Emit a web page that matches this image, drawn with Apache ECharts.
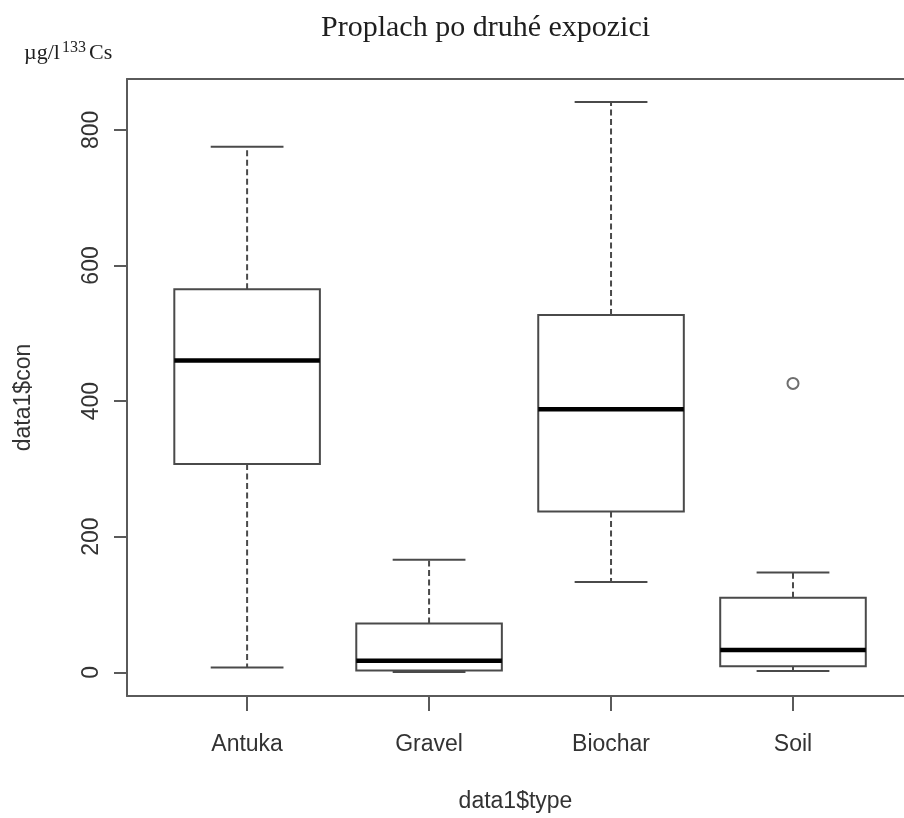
<!DOCTYPE html>
<html>
<head>
<meta charset="utf-8">
<script src="https://cdn.jsdelivr.net/npm/echarts@6/dist/echarts.min.js"></script>
<style>
  html, body { margin: 0; padding: 0; background: #fff; }
  #chart { width: 904px; height: 818px; }
</style>
</head>
<body>
<div id="chart"></div>
<script>
// Box-plot statistics per soil type (µg/l 133Cs)
const categories   = ['Antuka', 'Gravel', 'Biochar', 'Soil'];
const lowWhisker   = [7, 0.5, 133, 2];
const lowerQuart   = [307, 2.5, 237, 9];
const medians      = [460, 17, 388, 33];
const upperQuart   = [565, 72, 527, 110];
const highWhisker  = [775, 166, 841, 147];
// Outlying points: [category position (1-based), value]
const outlierPos   = [4];
const outlierVals  = [426];
const yTicks       = [0, 200, 400, 600, 800];

const boxRows = categories.map((c, i) => [
  i + 1, lowWhisker[i], lowerQuart[i], medians[i], upperQuart[i], highWhisker[i]
]);
const outlierRows = outlierPos.map((p, i) => [p, outlierVals[i]]);
const xPositions = categories.map((c, i) => i + 1);

const lineColor = '#4a4a4a';
const frameColor = '#5a5a5a';

function renderBox(params, api) {
  const x = api.value(0);
  const pLo  = api.coord([x, api.value(1)]);
  const pQ1  = api.coord([x, api.value(2)]);
  const pMed = api.coord([x, api.value(3)]);
  const pQ3  = api.coord([x, api.value(4)]);
  const pHi  = api.coord([x, api.value(5)]);
  const half = api.size([0.4, 0])[0];
  const cap = half / 2;
  const cx = pMed[0];
  const thin = { stroke: lineColor, lineWidth: 2, fill: null };
  const dashed = { stroke: lineColor, lineWidth: 2, lineDash: [6, 3.5] };
  return {
    type: 'group',
    children: [
      { type: 'line', shape: { x1: cx, y1: pQ3[1], x2: cx, y2: pHi[1] }, style: dashed },
      { type: 'line', shape: { x1: cx, y1: pQ1[1], x2: cx, y2: pLo[1] }, style: dashed },
      { type: 'line', shape: { x1: cx - cap, y1: pHi[1], x2: cx + cap, y2: pHi[1] }, style: thin },
      { type: 'line', shape: { x1: cx - cap, y1: pLo[1], x2: cx + cap, y2: pLo[1] }, style: thin },
      { type: 'rect', shape: { x: cx - half, y: pQ3[1], width: 2 * half, height: pQ1[1] - pQ3[1] },
        style: { stroke: lineColor, lineWidth: 2, fill: '#fff' } },
      { type: 'line', shape: { x1: cx - half, y1: pMed[1], x2: cx + half, y2: pMed[1] },
        style: { stroke: '#000', lineWidth: 4.5 } }
    ]
  };
}

const chart = echarts.init(document.getElementById('chart'), null, { renderer: 'canvas' });

const unitFont = '"Liberation Serif"';

chart.setOption({
  animation: false,
  backgroundColor: '#ffffff',
  title: {
    text: 'Proplach po druhé expozici',
    left: 316,
    top: 8,
    textStyle: { fontFamily: 'Liberation Serif', fontSize: 30, fontWeight: 'normal', color: '#1e1e1e' }
  },
  graphic: [
    { type: 'text', left: 24, top: 42,
      style: { text: 'µg/l', font: '22px ' + unitFont, fill: '#1e1e1e' } },
    { type: 'text', left: 62, top: 40,
      style: { text: '133', font: '16px ' + unitFont, fill: '#1e1e1e' } },
    { type: 'text', left: 89, top: 42,
      style: { text: 'Cs', font: '22px ' + unitFont, fill: '#1e1e1e' } }
  ],
  grid: {
    left: 127, right: 0, top: 79, bottom: 122,
    show: false
  },
  xAxis: [
    {
      type: 'value',
      min: 0.34,
      max: 4.61,
      axisLine: { show: true, onZero: false, lineStyle: { color: frameColor, width: 2 } },
      splitLine: { show: false },
      axisTick: { show: true, customValues: xPositions, length: 15, inside: false,
        lineStyle: { color: frameColor, width: 2 } },
      axisLabel: {
        customValues: xPositions,
        formatter: v => categories[Math.round(v) - 1],
        margin: 37,
        fontFamily: 'Liberation Sans', fontSize: 23, color: '#333'
      },
      name: 'data1$type',
      nameLocation: 'middle',
      nameGap: 94,
      nameTextStyle: { fontFamily: 'Liberation Sans', fontSize: 23, color: '#333' }
    },
    {
      // top edge of the plot frame
      type: 'value',
      position: 'top',
      min: 0.34,
      max: 4.61,
      axisLine: { show: true, onZero: false, lineStyle: { color: frameColor, width: 2 } },
      axisTick: { show: false },
      axisLabel: { show: false },
      splitLine: { show: false }
    }
  ],
  yAxis: {
    type: 'value',
    min: -35,
    max: 875,
    axisLine: { show: true, onZero: false, lineStyle: { color: frameColor, width: 2 } },
    splitLine: { show: false },
    axisTick: { show: true, customValues: yTicks, length: 13,
      lineStyle: { color: frameColor, width: 2 } },
    axisLabel: {
      customValues: yTicks,
      rotate: 90,
      margin: 24,
      fontFamily: 'Liberation Sans', fontSize: 23, color: '#333'
    },
    name: 'data1$con',
    nameLocation: 'middle',
    nameGap: 92,
    nameTextStyle: { fontFamily: 'Liberation Sans', fontSize: 23, color: '#333', padding: [0, 0, 0, -20] }
  },
  series: [
    {
      type: 'custom',
      renderItem: renderBox,
      data: boxRows,
      encode: { x: 0, y: [1, 2, 3, 4, 5] },
      z: 2
    },
    {
      type: 'scatter',
      data: outlierRows,
      symbol: 'circle',
      symbolSize: 11,
      itemStyle: { color: '#fff', borderColor: lineColor, borderWidth: 2 },
      z: 3
    }
  ]
});
</script>
</body>
</html>
